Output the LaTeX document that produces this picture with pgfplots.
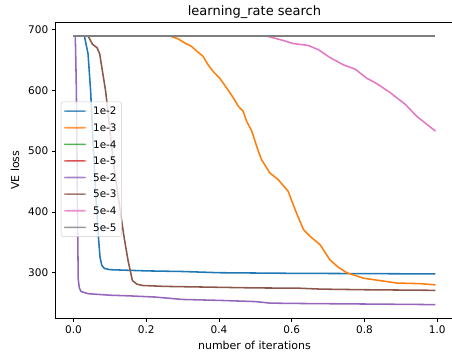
\documentclass[border=0pt]{standalone}
\usepackage{fontspec}
\setmainfont{DejaVu Sans}
\usepackage{pgfplots}
\pgfplotsset{compat=1.18}
\definecolor{c1}{HTML}{1F77B4}
\definecolor{c2}{HTML}{FF7F0E}
\definecolor{c3}{HTML}{2CA02C}
\definecolor{c4}{HTML}{D62728}
\definecolor{c5}{HTML}{9467BD}
\definecolor{c6}{HTML}{8C564B}
\definecolor{c7}{HTML}{E377C2}
\definecolor{c8}{HTML}{7F7F7F}
\begin{document}
\begin{tikzpicture}[font=\fontsize{10.5bp}{12.6bp}\selectfont]
\useasboundingbox (0,0) rectangle (452bp,356bp);
\begin{axis}[
  at={(55.3bp,37.7bp)}, anchor=south west,
  scale only axis, width=398.3bp, height=296bp,
  xmin=-50000, xmax=1044800, ymin=225, ymax=712,
  scaled x ticks=false,
  xtick={0,200000,400000,600000,800000,1000000},
  xticklabels={0.0,0.2,0.4,0.6,0.8,1.0},
  ytick={300,400,500,600,700},
  tick align=outside, tick pos=left,
  major tick length=3.5bp,
  every tick/.style={black, line width=0.8bp},
  axis line style={black, line width=0.8bp},
  /pgf/number format/assume math mode=true,
  xlabel={number of iterations},
  ylabel={VE loss},
  title={learning\_rate search},
  title style={font=\fontsize{13bp}{15.6bp}\selectfont, yshift=-6bp},
  label style={font=\fontsize{11bp}{13.2bp}\selectfont},
  xlabel style={yshift=-1bp},
  ylabel style={yshift=2bp},
  legend cell align=left,
  legend image code/.code={\fill[#1, draw=none] (0bp,-0.8bp) rectangle (22bp,0.8bp);},
  legend style={at={(0.0143,0.732)}, anchor=north west,
    draw=black!20, fill=white, fill opacity=0.8, text opacity=1, draw opacity=1,
    rounded corners=2bp, inner xsep=3bp, inner ysep=3.5bp,
    nodes={inner sep=2bp, text height=7.6bp, text depth=0bp},
    row sep=5bp, column sep=5bp,
    font=\fontsize{10.4bp}{12.5bp}\selectfont},
  every axis plot/.append style={line width=1.55bp, line join=round},
]
% 1e-2
\addplot[c1] coordinates {(0,689.5) (30000,689.5) (40000,660) (47000,600) (55000,500) (62000,420) (69000,355) (73000,325) (78000,312) (85000,307) (100000,305) (150000,304) (200000,303) (300000,302) (400000,300) (500000,299.5) (600000,299) (800000,298.5) (995000,298)};
\addlegendentry{1e-2}
% 1e-3
\addplot[c2] coordinates {(0,689.5) (265000,689.5) (287000,685) (306000,678) (324000,672.5) (338000,665) (356000,656) (370000,642) (384000,631) (402000,620) (421000,604) (439000,588) (453000,574) (466000,566) (476000,549) (490000,533) (508000,500) (517000,486) (540000,464) (563000,453) (590000,434) (609000,404) (632000,371) (650000,360) (678000,346) (705000,321) (728000,309) (751000,300) (797000,291) (843000,287) (889000,283) (953000,282) (995000,280)};
\addlegendentry{1e-3}
% 1e-4
\addplot[c3] coordinates {(0,689.5) (995000,689.5)};
\addlegendentry{1e-4}
% 1e-5
\addplot[c4] coordinates {(0,689.5) (995000,689.5)};
\addlegendentry{1e-5}
% 5e-2
\addplot[c5] coordinates {(0,689.5) (5000,689.5) (8000,600) (11000,400) (13000,290) (16000,275) (21000,269) (40000,265.5) (100000,263) (150000,262) (223000,260) (300000,256) (400000,254.5) (500000,252.5) (540000,250) (600000,249.5) (700000,249) (800000,248.5) (995000,247.5)};
\addlegendentry{5e-2}
% 5e-3
\addplot[c6] coordinates {(0,689.5) (40000,689.5) (45000,684) (52000,676) (65000,670) (72000,660) (80000,630) (88000,600) (91000,585) (110000,480) (132000,387) (140000,355) (150000,320) (162000,287) (175000,281) (190000,279) (250000,277.5) (400000,276) (500000,275) (620000,274.5) (680000,273) (800000,272) (995000,271)};
\addlegendentry{5e-3}
% 5e-4
\addplot[c7] coordinates {(0,689.5) (530000,689.5) (577000,682) (604000,677) (645000,674) (673000,667) (705000,654) (742000,642) (774000,635) (806000,620) (834000,611) (871000,596) (912000,577) (944000,557) (995000,533)};
\addlegendentry{5e-4}
% 5e-5
\addplot[c8] coordinates {(0,689.5) (995000,689.5)};
\addlegendentry{5e-5}
\node[anchor=north east, inner sep=0pt] at (rel axis cs:1,0) [yshift=-21bp] {1e6};
\end{axis}
\end{tikzpicture}
\end{document}
